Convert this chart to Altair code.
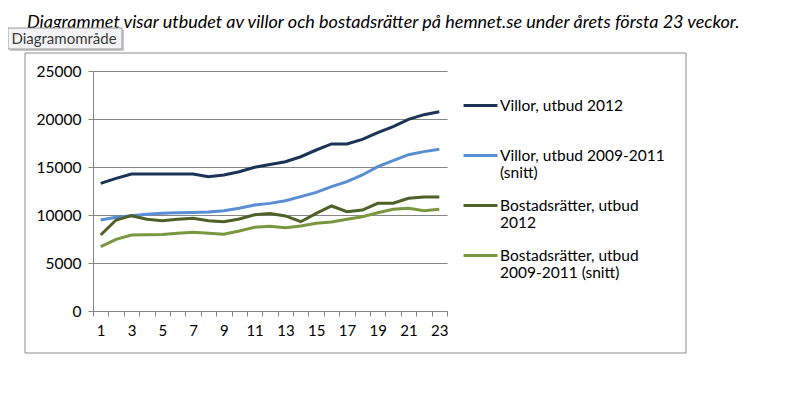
import altair as alt
import pandas as pd

weeks = list(range(1, 24))
series_names = [
    "Villor, utbud 2012",
    "Villor, utbud 2009-2011|(snitt)",
    "Bostadsrätter, utbud|2012",
    "Bostadsrätter, utbud|2009-2011 (snitt)",
]
colors = ["#1B3456", "#5A8ED3", "#4D6128", "#7A973F"]

villor_2012 = [13300, 13820, 14270, 14270, 14270, 14270, 14270, 13990, 14170, 14510, 14970, 15250,
               15550, 16070, 16770, 17400, 17400, 17880, 18580, 19200, 19970, 20450, 20760]
villor_snitt = [9480, 9760, 9930, 10070, 10170, 10240, 10270, 10310, 10450, 10700, 11040, 11210,
                11490, 11910, 12360, 12950, 13470, 14170, 15030, 15660, 16280, 16600, 16840]
br_2012 = [7920, 9480, 9930, 9550, 9410, 9550, 9650, 9410, 9300, 9580, 10030, 10150,
           9900, 9300, 10170, 10940, 10350, 10520, 11220, 11220, 11740, 11880, 11880]
br_snitt = [6700, 7470, 7920, 7950, 7980, 8090, 8200, 8090, 7990, 8330, 8720, 8820,
            8680, 8850, 9130, 9270, 9550, 9820, 10240, 10590, 10700, 10450, 10590]

y_ticks = [0, 5000, 10000, 15000, 20000, 25000]
title_text = "Diagrammet  visar utbudet av villor och bostadsrätter på hemnet.se under årets första 23 veckor."
tooltip_text = "Diagramområde"

rows = []
for name, vals in zip(series_names, [villor_2012, villor_snitt, br_2012, br_snitt]):
    for w, v in zip(weeks, vals):
        rows.append({"week": w, "value": v, "series": name})
df = pd.DataFrame(rows)
one = pd.DataFrame({"t": [title_text], "tip": [tooltip_text]})

GRID = "#868686"
FONT = "Lato"

border = alt.Chart(one).mark_rect(fill="white", fillOpacity=0, stroke="#8c8c8c", strokeWidth=1).encode(
    x=alt.value(-68), x2=alt.value(593), y=alt.value(-18), y2=alt.value(282)
)

lines = alt.Chart(df).mark_line(strokeWidth=3).encode(
    x=alt.X("week:O", bandPosition=0.5,
            scale=alt.Scale(type="band", paddingInner=0, paddingOuter=0),
            axis=alt.Axis(title=None, tickBand="extent", labelAngle=0,
                          labelExpr="datum.value % 2 == 1 ? datum.label : ''",
                          domainColor=GRID, tickColor=GRID, tickSize=5,
                          labelFont=FONT, labelFontSize=15, labelColor="#000",
                          labelPadding=7, grid=False)),
    y=alt.Y("value:Q", scale=alt.Scale(domain=[0, 25000]),
            axis=alt.Axis(title=None, values=y_ticks, format="d", grid=True, gridColor=GRID,
                          domainColor=GRID, tickColor=GRID, tickSize=5,
                          labelFont=FONT, labelFontSize=15.5, labelColor="#000",
                          labelPadding=7)),
    color=alt.Color("series:N", sort=series_names,
                    scale=alt.Scale(domain=series_names, range=colors),
                    legend=alt.Legend(title=None, orient="none", legendX=369, legendY=16,
                                      symbolType="stroke", symbolSize=1150,
                                      symbolStrokeWidth=3,
                                      labelOffset=1, labelFont=FONT, labelFontSize=15.5,
                                      labelColor="#000", labelLimit=250, gridAlign="all",
                                      rowPadding=5,
                                      labelExpr="split(datum.label, '|')")),
)

title = alt.Chart(one).mark_text(align="left", baseline="middle", fontStyle="italic",
                                 font=FONT, fontSize=18, color="#000").encode(
    x=alt.value(-66), y=alt.value(-48), text="t:N"
)

tip_shadow = alt.Chart(one).mark_rect(fill="#c8c8c8").encode(
    x=alt.value(-83), x2=alt.value(31), y=alt.value(-41), y2=alt.value(-20)
)
tip_box = alt.Chart(one).mark_rect(fill="#f3f3f5", stroke="#9a9a9a", strokeWidth=1).encode(
    x=alt.value(-85), x2=alt.value(29), y=alt.value(-43), y2=alt.value(-22)
)
tip_text = alt.Chart(one).mark_text(align="center", baseline="middle", font=FONT,
                                    fontSize=15, color="#3a3a3a").encode(
    x=alt.value(-29), y=alt.value(-32), text="tip:N"
)

chart = alt.layer(border, lines, title, tip_shadow, tip_box, tip_text).properties(
    width=354, height=240,
    autosize=alt.AutoSizeParams(type="none"),
    padding={"left": 85, "top": 63, "right": 325, "bottom": 60},
).configure_view(stroke=None)

chart.save("out.html", embed_options={"renderer": "svg", "actions": False})
